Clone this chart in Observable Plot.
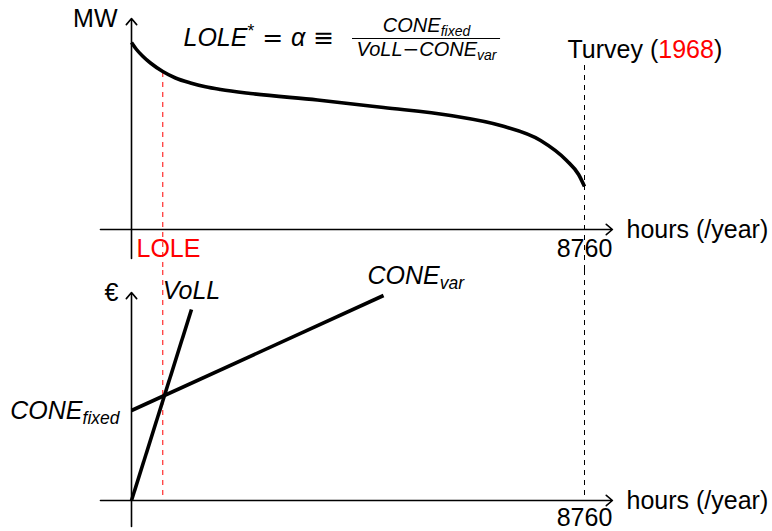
<!DOCTYPE html>
<html>
<head>
<meta charset="utf-8">
<script src="https://cdn.jsdelivr.net/npm/d3@7"></script>
<script src="https://cdn.jsdelivr.net/npm/@observablehq/plot@0.6"></script>
<style>
  html, body { margin: 0; padding: 0; background: #fff; }
  #chart { width: 772px; height: 531px; overflow: hidden; }
  #chart svg { display: block; }
</style>
</head>
<body>
<div id="chart"></div>
<script>
// Hours in a year and the reliability standard (loss-of-load expectation, h/yr)
const HOURS = 8760;
const LOLE = 605;

// Load-duration curve: sorted hourly demand (arbitrary MW units)
const loadHours = [0, 97, 213, 367, 605, 851, 1141, 1431, 1721, 2301, 3597, 4874, 6170, 7137, 7911, 8414, 8646, 8760];
const loadMW    = [187, 180, 173.5, 166.5, 158, 151.5, 146.5, 142.7, 140, 136, 129.5, 122, 114, 104, 89, 69, 55, 43];

// Annual cost of unserved energy (VoLL) and of peaking capacity (CONE), € per hours of use
const vollHours    = [0, 1160];
const vollEuro     = [0, 191];
const coneVarHours = [0, 4874];
const coneVarEuro  = [90, 205];

// Axis extents in data units (hours)
const xAxisHours = [-600, 9300];

const duration = loadHours.map((h, i) => ({hours: h, value: loadMW[i]}));
const voll = vollHours.map((h, i) => ({hours: h, value: vollEuro[i]}));
const coneVar = coneVarHours.map((h, i) => ({hours: h, value: coneVarEuro[i]}));

const FONT = "Liberation Sans, Arial, Helvetica, sans-serif";
const SYMBOL_FONT = "DejaVu Sans, sans-serif";
const RED = "#ff0000";

// Mixed-style labels (italics, sub/superscripts, colour) rebuilt as tspans after rendering
const richParts = new Map([
  ["LOLE* = α ≡", [
    {text: "LOLE", italic: true}, {text: "*", sup: true},
    {text: " = ", symbol: true}, {text: "α", italic: true}, {text: " ≡", symbol: true}
  ]],
  ["CONEfixed", [{text: "CONE", italic: true}, {text: "fixed", italic: true, sub: true}]],
  ["VoLL−CONEvar", [{text: "VoLL", italic: true}, {text: "−", symbol: true}, {text: "CONE", italic: true}, {text: "var", italic: true, sub: true}]],
  ["CONEvar", [{text: "CONE", italic: true}, {text: "var", italic: true, sub: true}]],
  ["Turvey (1968)", [{text: "Turvey ("}, {text: "1968", fill: RED}, {text: ")"}]]
]);

function applyRichText(svg) {
  d3.select(svg).selectAll("text").each(function () {
    const parts = richParts.get(this.textContent);
    if (!parts) return;
    const fs = parseFloat(getComputedStyle(this).fontSize) || 25;
    const text = d3.select(this).text(null);
    let shift = 0;
    for (const p of parts) {
      const target = p.sub ? 0.22 * fs : p.sup ? -0.36 * fs : 0;
      const span = text.append("tspan").attr("dy", target - shift).text(p.text);
      shift = target;
      if (p.italic) span.attr("font-style", "italic");
      if (p.symbol) span.attr("font-family", SYMBOL_FONT);
      if (p.sub || p.sup) span.attr("font-size", "0.7em");
      if (p.fill) span.attr("fill", p.fill);
    }
  });
}

const common = {
  width: 772,
  marginLeft: 131,
  marginRight: 188,
  x: {domain: [0, HOURS], axis: null},
  style: {fontFamily: FONT, fontSize: "25px", background: "white", overflow: "visible"}
};

const axisStyle = {stroke: "black", strokeWidth: 1.6, headLength: 7.5, headAngle: 80};
const txt = {fontFamily: FONT, fontSize: 25, fill: "black"};

// Top panel: load-duration curve
const topPlot = Plot.plot({
  ...common,
  height: 270,
  marginTop: 29,
  marginBottom: 41,
  y: {domain: [0, 200], axis: null},
  marks: [
    Plot.ruleX([{x: LOLE, y1: 157, y2: -41}], {x: "x", y1: "y1", y2: "y2", stroke: RED, strokeWidth: 1, strokeDasharray: "5,5"}),
    Plot.ruleX([{x: HOURS, y1: 164, y2: -41}], {x: "x", y1: "y1", y2: "y2", stroke: "black", strokeWidth: 1, strokeDasharray: "5,5"}),
    Plot.arrow([{x1: xAxisHours[0], y1: 0, x2: xAxisHours[1], y2: 0}], {x1: "x1", y1: "y1", x2: "x2", y2: "y2", ...axisStyle}),
    Plot.arrow([{x1: 0, y1: -29, x2: 0, y2: 211}], {x1: "x1", y1: "y1", x2: "x2", y2: "y2", ...axisStyle}),
    Plot.line(duration, {x: "hours", y: "value", curve: "monotone-x", stroke: "black", strokeWidth: 3.6, strokeLinecap: "butt"}),
    // formula: LOLE* = α ≡ CONE_fixed / (VoLL − CONE_var)
    Plot.text([{x: 1006, y: 184, t: "LOLE* = α ≡"}], {x: "x", y: "y", text: "t", textAnchor: "start", lineAnchor: "bottom", ...txt}),
    Plot.text([{x: 5705, y: 198, t: "CONEfixed"}], {x: "x", y: "y", text: "t", textAnchor: "middle", lineAnchor: "bottom", ...txt, fontSize: 20}),
    Plot.ruleY([{y: 191, x1: 4274, x2: 7137}], {y: "y", x1: "x1", x2: "x2", stroke: "black", strokeWidth: 1}),
    Plot.text([{x: 5705, y: 174, t: "VoLL−CONEvar"}], {x: "x", y: "y", text: "t", textAnchor: "middle", lineAnchor: "bottom", ...txt, fontSize: 20}),
    Plot.text([{x: HOURS, y: 172, t: "Turvey (1968)"}], {x: "x", y: "y", text: "t", textAnchor: "start", lineAnchor: "bottom", dx: -17, ...txt}),
    Plot.text([{x: 0, y: 211, t: "MW"}], {x: "x", y: "y", text: "t", textAnchor: "end", lineAnchor: "middle", dx: -14, ...txt}),
    Plot.text([{x: 0, y: 0, t: "LOLE"}], {x: "x", y: "y", text: "t", textAnchor: "start", lineAnchor: "top", dx: 5, dy: 10, ...txt, fill: RED}),
    Plot.text([{x: HOURS, y: 0, t: "8760"}], {x: "x", y: "y", text: "t", textAnchor: "middle", lineAnchor: "top", dy: 10, ...txt}),
    Plot.text([{x: HOURS, y: 0, t: "hours (/year)"}], {x: "x", y: "y", text: "t", textAnchor: "start", lineAnchor: "middle", dx: 42, ...txt})
  ]
});

// Bottom panel: annual cost lines against hours of use
const bottomPlot = Plot.plot({
  ...common,
  height: 261,
  marginTop: 30,
  marginBottom: 31,
  y: {domain: [0, 200], axis: null},
  marks: [
    Plot.ruleX([{x: LOLE, y1: 230, y2: 0}], {x: "x", y1: "y1", y2: "y2", stroke: RED, strokeWidth: 1, strokeDasharray: "5,5"}),
    Plot.ruleX([{x: HOURS, y1: 230, y2: 0}], {x: "x", y1: "y1", y2: "y2", stroke: "black", strokeWidth: 1, strokeDasharray: "5,5"}),
    Plot.arrow([{x1: xAxisHours[0], y1: 0, x2: xAxisHours[1], y2: 0}], {x1: "x1", y1: "y1", x2: "x2", y2: "y2", ...axisStyle}),
    Plot.arrow([{x1: 0, y1: -26, x2: 0, y2: 208}], {x1: "x1", y1: "y1", x2: "x2", y2: "y2", ...axisStyle}),
    Plot.line(voll, {x: "hours", y: "value", stroke: "black", strokeWidth: 3.6, strokeLinecap: "butt"}),
    Plot.line(coneVar, {x: "hours", y: "value", stroke: "black", strokeWidth: 3.6, strokeLinecap: "butt"}),
    Plot.text([{x: 0, y: 208, t: "€"}], {x: "x", y: "y", text: "t", textAnchor: "end", lineAnchor: "middle", dx: -13, ...txt}),
    Plot.text([{x: vollHours[1], y: vollEuro[1], t: "VoLL"}], {x: "x", y: "y", text: "t", textAnchor: "middle", lineAnchor: "bottom", dy: -11, fontStyle: "italic", ...txt}),
    Plot.text([{x: coneVarHours[1], y: coneVarEuro[1], t: "CONEvar"}], {x: "x", y: "y", text: "t", textAnchor: "start", lineAnchor: "bottom", dx: -16, dy: -12, ...txt}),
    Plot.text([{x: 0, y: coneVarEuro[0], t: "CONEfixed"}], {x: "x", y: "y", text: "t", textAnchor: "end", lineAnchor: "middle", dx: -12, ...txt}),
    Plot.text([{x: HOURS, y: 0, t: "8760"}], {x: "x", y: "y", text: "t", textAnchor: "middle", lineAnchor: "top", dy: 8, ...txt}),
    Plot.text([{x: HOURS, y: 0, t: "hours (/year)"}], {x: "x", y: "y", text: "t", textAnchor: "start", lineAnchor: "middle", dx: 42, ...txt})
  ]
});

const chart = document.getElementById("chart");
chart.appendChild(topPlot);
chart.appendChild(bottomPlot);
applyRichText(topPlot);
applyRichText(bottomPlot);
</script>
</body>
</html>
